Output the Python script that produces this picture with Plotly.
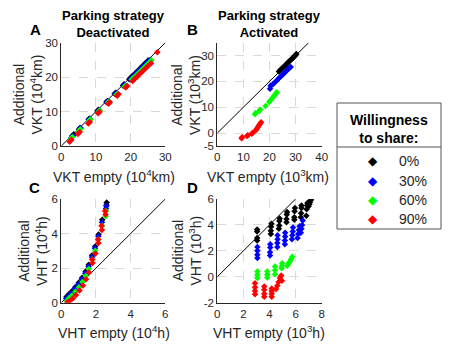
import plotly.graph_objects as go

# page has an 8px body margin: figure sized to fit the 453x354 window
OFF = 8
W, H = 453 - OFF, 354 - OFF
FONT = "Liberation Sans, Arial, sans-serif"

colors = ["#000000", "#0000ff", "#00ff00", "#ff0000"]
share_labels = ["0%", "30%", "60%", "90%"]

# ---- Panel A (VKT, parking deactivated, 10^4 km) ----
A_x = [
    [3.2, 3.6, 5.1, 5.4, 7.9, 8.1, 10.4, 10.7, 13.0, 13.3, 15.4, 15.7, 17.8, 18.1, 19.6, 20.0, 20.5, 21.2, 22.0, 22.7, 23.5, 24.2, 25.0],
    [2.9, 3.4, 5.2, 5.6, 8.0, 8.3, 10.6, 10.9, 13.2, 13.5, 15.6, 15.9, 18.0, 18.3, 19.9, 20.4, 21.0, 21.7, 22.4, 23.2, 24.0, 24.7, 25.4],
    [2.7, 3.2, 5.0, 5.5, 8.1, 8.4, 10.8, 11.1, 13.5, 13.8, 15.9, 16.2, 18.3, 18.6, 20.3, 20.8, 21.5, 22.2, 22.9, 23.6, 24.4, 25.2, 26.0],
    [2.4, 2.9, 4.8, 5.3, 7.8, 8.2, 10.6, 11.0, 13.6, 14.0, 16.1, 16.5, 18.6, 19.0, 20.6, 21.2, 21.9, 22.6, 23.4, 24.2, 25.0, 25.9, 27.7],
]
A_y = [
    [3.0, 3.4, 4.9, 5.2, 7.7, 7.9, 10.2, 10.5, 12.8, 13.1, 15.2, 15.5, 17.6, 17.9, 19.4, 19.8, 20.3, 21.0, 21.8, 22.5, 23.3, 24.0, 24.8],
    [2.5, 3.0, 4.8, 5.2, 7.6, 7.9, 10.1, 10.4, 12.7, 13.0, 15.1, 15.4, 17.5, 17.8, 19.4, 19.9, 20.5, 21.2, 21.9, 22.7, 23.5, 24.2, 24.9],
    [2.0, 2.6, 4.3, 4.9, 7.4, 7.7, 10.0, 10.3, 12.6, 12.9, 14.9, 15.2, 17.3, 17.6, 19.3, 19.8, 20.4, 21.1, 21.8, 22.5, 23.3, 24.1, 24.9],
    [1.2, 1.8, 3.5, 4.1, 6.5, 7.0, 9.5, 9.9, 12.3, 12.7, 14.6, 15.0, 17.0, 17.4, 18.9, 19.5, 20.2, 20.9, 21.6, 22.4, 23.2, 24.0, 27.2],
]

# ---- Panel B (VKT, parking activated, 10^3 km) ----
B_x = [
    [23.6, 24.0, 24.4, 24.8, 25.2, 25.6, 26.0, 26.4, 26.8, 27.2, 27.6, 28.0, 28.4, 28.8, 29.2, 29.6, 30.0, 30.3],
    [20.2, 20.4, 21.2, 22.0, 22.8, 23.5, 24.3, 25.0, 25.7, 26.4, 27.0, 27.6, 28.1],
    [14.4, 14.7, 16.1, 16.4, 18.5, 19.9, 20.3, 21.3, 21.7, 22.4, 22.8],
    [9.3, 9.5, 11.4, 11.7, 13.2, 13.6, 14.8, 15.2, 15.6, 16.0, 16.4, 16.8],
]
B_y = [
    [23.8, 24.2, 24.6, 25.0, 25.4, 25.8, 26.2, 26.6, 27.0, 27.4, 27.8, 28.2, 28.6, 29.0, 29.4, 29.8, 30.2, 30.6],
    [17.2, 18.3, 18.8, 19.6, 20.4, 21.1, 21.9, 22.6, 23.3, 24.0, 24.6, 25.2, 25.6],
    [7.3, 7.8, 8.6, 9.0, 10.5, 12.0, 12.5, 13.8, 14.4, 15.2, 15.8],
    [-2.0, -1.6, -1.1, -0.8, -0.3, 0.1, 1.2, 1.8, 2.4, 3.0, 3.6, 4.2],
]

# ---- Panel C (VHT, parking deactivated, 10^4 h) ----
C_x = [
    [0.30, 0.45, 0.60, 0.80, 1.00, 1.20, 1.40, 1.58, 1.78, 1.95, 2.15, 2.36, 2.62, 2.60],
    [0.28, 0.43, 0.58, 0.78, 0.98, 1.18, 1.38, 1.57, 1.77, 1.94, 2.14, 2.35, 2.60, 2.58],
    [0.32, 0.47, 0.62, 0.82, 1.02, 1.22, 1.41, 1.59, 1.79, 1.96, 2.15, 2.36, 2.58, 2.56],
    [0.35, 0.50, 0.66, 0.85, 1.05, 1.25, 1.43, 1.60, 1.80, 1.97, 2.14, 2.34, 2.55, 2.53, 2.32, 2.12, 1.78],
]
C_y = [
    [0.35, 0.50, 0.65, 0.90, 1.15, 1.45, 1.80, 2.20, 2.75, 3.25, 3.95, 4.80, 5.80, 5.65],
    [0.25, 0.40, 0.55, 0.80, 1.05, 1.35, 1.70, 2.10, 2.65, 3.15, 3.85, 4.65, 5.60, 5.45],
    [0.12, 0.28, 0.42, 0.65, 0.90, 1.20, 1.55, 1.95, 2.50, 3.00, 3.65, 4.45, 5.30, 5.00],
    [0.02, 0.12, 0.25, 0.45, 0.70, 1.00, 1.35, 1.75, 2.30, 2.85, 3.45, 4.20, 5.10, 5.30, 4.45, 3.65, 2.50],
]

# ---- Panel D (VHT, parking activated, 10^3 h) ----
D_x = [
    [3.05, 3.05, 3.05, 3.05, 4.10, 4.10, 4.12, 4.15, 4.72, 4.75, 4.75, 4.78, 5.30, 5.30, 5.32, 5.35,
     5.90, 5.90, 5.92, 5.95, 6.40, 6.42, 6.45, 6.45, 6.82, 6.85, 6.88, 6.90, 7.00, 7.05, 7.10, 7.15, 7.20],
    [3.07, 3.07, 3.07, 3.07, 4.04, 4.04, 4.06, 4.06, 4.60, 4.60, 4.62, 4.62, 5.18, 5.18, 5.20, 5.20,
     5.72, 5.75, 5.78, 5.80, 6.15, 6.20, 6.25, 6.30, 6.40, 6.45, 6.50, 6.55],
    [3.07, 3.07, 3.07, 3.83, 3.83, 3.83, 4.42, 4.42, 4.42, 4.93, 4.95, 4.97, 5.35, 5.45, 5.55, 5.65, 5.75],
    [2.89, 2.89, 2.89, 2.89, 3.60, 3.60, 3.60, 3.60, 4.17, 4.17, 4.17, 4.17, 4.50, 4.60, 4.70, 4.80, 4.90, 4.95],
]
D_y = [
    [2.80, 3.00, 3.50, 3.65, 3.30, 3.55, 3.85, 4.10, 3.70, 3.95, 4.30, 4.50, 4.20, 4.45, 4.80, 5.00,
     4.40, 4.60, 5.05, 5.30, 4.60, 4.90, 5.30, 5.50, 4.70, 5.20, 5.50, 5.70, 5.45, 5.60, 5.75, 5.90, 6.00],
    [1.45, 1.70, 2.00, 2.30, 1.65, 1.90, 2.25, 2.50, 2.30, 2.60, 2.90, 3.20, 2.50, 2.80, 3.10, 3.40,
     2.90, 3.20, 3.50, 3.80, 3.00, 3.30, 3.60, 3.90, 3.40, 3.70, 4.00, 4.35],
    [-0.10, 0.15, 0.40, -0.05, 0.15, 0.40, 0.20, 0.50, 0.80, 0.65, 0.85, 1.05, 0.85, 1.00, 1.15, 1.35, 1.55],
    [-1.35, -1.10, -0.80, -0.50, -1.55, -1.30, -1.00, -0.75, -1.55, -1.30, -1.10, -0.90, -0.95, -0.70, -0.40, -0.10, 0.10, -0.30],
]

# identity reference lines (y = x) per panel
diag_A = [0, 30]
diag_B = [0, 35]
diag_C = [0, 6]
diag_D = [0, 6]

# axis ranges / ticks
A_xticks = [0, 10, 20, 30]; A_yticks = [0, 10, 20, 30]
B_xticks = [0, 10, 20, 30, 40]; B_yticks = [-5, 0, 10, 20, 30]
B_yticktext = ["-5", "0", "10", "20", "30"]
C_ticks = [0, 2, 4, 6]
D_xticks = [0, 2, 4, 6, 8]; D_yticks = [-2, 0, 2, 4, 6]
D_yticktext = ["-2", "0", "2", "4", "6"]


def px(x):
    return (x - OFF) / W


def py(y):
    return 1 - (y - OFF) / H


fig = go.Figure()

panels = [
    ("x", "y", A_x, A_y, diag_A),
    ("x2", "y2", B_x, B_y, diag_B),
    ("x3", "y3", C_x, C_y, diag_C),
    ("x4", "y4", D_x, D_y, diag_D),
]
for xa, ya, xs, ys, dg in panels:
    fig.add_trace(go.Scatter(x=dg, y=dg, mode="lines", line=dict(color="#000000", width=1),
                             xaxis=xa, yaxis=ya, showlegend=False, hoverinfo="skip"))
    for i in range(4):
        fig.add_trace(go.Scatter(x=xs[i], y=ys[i], mode="markers", xaxis=xa, yaxis=ya,
                                 marker=dict(symbol="diamond", size=5, color=colors[i],
                                             line=dict(width=0)),
                                 name=share_labels[i], showlegend=False))

axis_common = dict(showline=True, linecolor="#262626", linewidth=1, mirror=False,
                   showgrid=True, gridcolor="#d9d9d9", griddash="dash", gridwidth=1,
                   zeroline=False, ticks="", automargin=False,
                   tickfont=dict(family=FONT, size=11.5, color="#262626"))

xdomL = [px(61.3), px(165.3)]
xdomR = [px(217.3), px(321.7)]
ydomT = [py(146), py(42.7)]
ydomB = [py(302.7), py(199)]

fig.update_layout(
    width=W, height=H, margin=dict(l=0, r=0, t=0, b=0, pad=0, autoexpand=False),
    paper_bgcolor="white", plot_bgcolor="white",
    font=dict(family=FONT, color="#262626"),
    xaxis=dict(domain=xdomL, range=[0, 30], tickvals=A_xticks, anchor="y", **axis_common),
    yaxis=dict(domain=ydomT, range=[0, 30], tickvals=A_yticks, anchor="x", **axis_common),
    xaxis2=dict(domain=xdomR, range=[0, 40], tickvals=B_xticks, anchor="y2", **axis_common),
    yaxis2=dict(domain=ydomT, range=[-5, 35], tickvals=B_yticks, ticktext=B_yticktext, anchor="x2", **axis_common),
    xaxis3=dict(domain=xdomL, range=[0, 6], tickvals=C_ticks, anchor="y3", **axis_common),
    yaxis3=dict(domain=ydomB, range=[0, 6], tickvals=C_ticks, anchor="x3", **axis_common),
    xaxis4=dict(domain=xdomR, range=[0, 8], tickvals=D_xticks, anchor="y4", **axis_common),
    yaxis4=dict(domain=ydomB, range=[-2, 6], tickvals=D_yticks, ticktext=D_yticktext, anchor="x4", **axis_common),
)

ann = []


def text(x, y, t, size=14, bold=False, angle=0, color="#262626", xanchor="center"):
    if bold:
        t = "<b>" + t + "</b>"
    ann.append(dict(x=px(x), y=py(y), xref="paper", yref="paper", text=t, showarrow=False,
                    textangle=angle, font=dict(family=FONT, size=size, color=color),
                    xanchor=xanchor, yanchor="middle"))


# titles
text(113.3, 24, "Parking strategy<br>Deactivated", size=13, bold=True, color="#000000")
text(269.5, 24, "Parking strategy<br>Activated", size=13, bold=True, color="#000000")
# panel letters
for (lx, ly, lt) in [(35, 29, "A"), (192, 29, "B"), (34, 187, "C"), (192, 187, "D")]:
    text(lx, ly, lt, size=15, bold=True, color="#000000")
# x-axis titles
text(114, 176, "VKT empty (10<sup>4</sup>km)")
text(268, 176, "VKT empty (10<sup>3</sup>km)")
text(114, 332, "VHT empty (10<sup>4</sup>h)")
text(269, 332, "VHT empty (10<sup>3</sup>h)")
# y-axis titles
text(27.5, 95, "Additional<br>VKT (10<sup>4</sup>km)", angle=-90)
text(186, 95, "Additional<br>VKT (10<sup>3</sup>km)", angle=-90)
text(33, 251, "Additional<br>VHT (10<sup>4</sup>h)", angle=-90)
text(186.5, 251, "Additional<br>VHT (10<sup>3</sup>h)", angle=-90)

# legend box
text(389, 129, "Willingness<br>to share:", size=14, bold=True, color="#000000")
leg_y = [161, 180.5, 200, 219.5]
for i in range(4):
    text(373, leg_y[i], "\u25C6", size=12, color=colors[i])
    text(397, leg_y[i], share_labels[i], size=14, xanchor="left")

fig.update_layout(annotations=ann, shapes=[
    dict(type="rect", xref="paper", yref="paper", x0=px(337), x1=px(441), y0=py(229), y1=py(103),
         line=dict(color="#555555", width=1), fillcolor="rgba(0,0,0,0)"),
    dict(type="line", xref="paper", yref="paper", x0=px(337), x1=px(441), y0=py(147), y1=py(147),
         line=dict(color="#555555", width=1)),
])

fig.write_html("out.html")
